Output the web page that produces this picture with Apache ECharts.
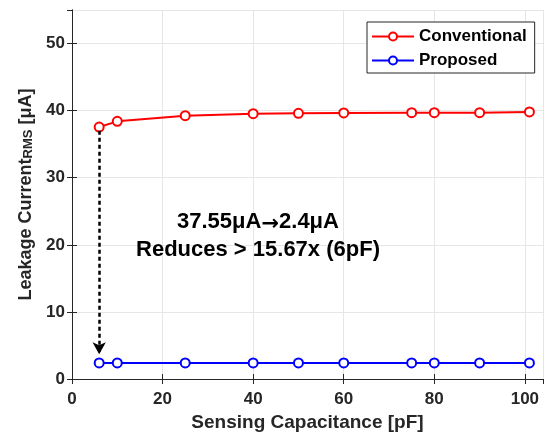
<!DOCTYPE html>
<html>
<head>
<meta charset="utf-8">
<script src="https://cdn.jsdelivr.net/npm/echarts@6/dist/echarts.min.js"></script>
<style>html,body{margin:0;padding:0;background:#fff;}#chart{width:544px;height:438px;}</style>
</head>
<body>
<div id="chart"></div>
<script>
// Data
var capacitance = [6, 10, 25, 40, 50, 60, 75, 80, 90, 101];
var conventional = [37.55, 38.4, 39.25, 39.55, 39.6, 39.65, 39.7, 39.7, 39.7, 39.8];
var proposed = [2.4, 2.4, 2.4, 2.4, 2.4, 2.4, 2.4, 2.4, 2.4, 2.4];
var seriesNames = ['Conventional', 'Proposed'];
var arrowX = 6, arrowFrom = 37.0, arrowTo = 3.7;
var annotation = ['{t|37.55μA}{r|→}{t|2.4μA}', '{t|Reduces > 15.67x (6pF)}'];

var FONT = '"Liberation Sans", Arial, sans-serif';
var TXT = '#262626';

function pairs(xs, ys) { return xs.map(function (x, i) { return [x, ys[i]]; }); }

var chart = echarts.init(document.getElementById('chart'), null, {renderer: 'canvas'});
var hiddenAxis = {
  axisLine: {show: true, lineStyle: {color: TXT, width: 1}},
  axisTick: {show: true, inside: true, length: 5, lineStyle: {color: TXT}},
  axisLabel: {show: false},
  splitLine: {show: false}
};
chart.setOption({
  animation: false,
  backgroundColor: '#fff',
  grid: {left: 72, right: 1, top: 10, bottom: 59, containLabel: false},
  legend: {
    orient: 'vertical', left: 367, top: 22,
    data: seriesNames,
    backgroundColor: '#fff', borderColor: '#262626', borderWidth: 1,
    padding: [6, 8, 4, 4], itemGap: 7, itemWidth: 42, itemHeight: 10,
    textStyle: {fontFamily: FONT, fontWeight: 'bold', fontSize: 17, color: '#000'}
  },
  xAxis: [{
    type: 'value', min: 0, max: 104, interval: 20,
    name: 'Sensing Capacitance [pF]', nameLocation: 'middle', nameGap: 32,
    nameTextStyle: {fontFamily: FONT, fontWeight: 'bold', fontSize: 19, color: TXT},
    axisLine: {onZero: false, lineStyle: {color: TXT, width: 1}},
    axisTick: {inside: true, length: 5, lineStyle: {color: TXT}},
    axisLabel: {fontFamily: FONT, fontWeight: 'bold', fontSize: 17, color: TXT, margin: 12, showMaxLabel: false},
    splitLine: {show: true, lineStyle: {color: '#e6e6e6', width: 1}}
  }, Object.assign({type: 'value', min: 0, max: 104, interval: 20, position: 'top'}, hiddenAxis)],
  yAxis: [{
    type: 'value', min: 0, max: 55, interval: 10,
    name: '{a|Leakage Current}{s|RMS}{a| [μA]}', nameLocation: 'middle', nameGap: 29,
    nameTextStyle: {
      fontFamily: FONT, fontWeight: 'bold', fontSize: 18, color: TXT,
      rich: {
        a: {fontFamily: FONT, fontWeight: 'bold', fontSize: 18, color: TXT, lineHeight: 19, verticalAlign: 'bottom'},
        s: {fontFamily: FONT, fontWeight: 'bold', fontSize: 13, color: TXT, lineHeight: 7, verticalAlign: 'bottom'}
      }
    },
    axisLine: {onZero: false, lineStyle: {color: TXT, width: 1}},
    axisTick: {inside: true, length: 5, lineStyle: {color: TXT}},
    axisLabel: {fontFamily: FONT, fontWeight: 'bold', fontSize: 17, color: TXT, margin: 7, showMaxLabel: false},
    splitLine: {show: true, lineStyle: {color: '#e6e6e6', width: 1}}
  }, Object.assign({type: 'value', min: 0, max: 55, interval: 10, position: 'right'}, hiddenAxis)],
  graphic: annotation.map(function (t, i) {
    return {
      type: 'text', x: 258, y: 222 + i * 28, silent: true, z: 100,
      style: {
        text: t, fill: '#000', font: 'bold 22px ' + FONT, align: 'center', verticalAlign: 'middle',
        rich: {
          t: {fontFamily: FONT, fontWeight: 'bold', fontSize: 22, fill: '#000', lineHeight: 26, verticalAlign: 'middle'},
          r: {fontFamily: '"DejaVu Sans", sans-serif', fontWeight: 'bold', fontSize: 21, fill: '#000', lineHeight: 18, verticalAlign: 'bottom'}
        }
      }
    };
  }),
  series: [{
    name: seriesNames[0], type: 'line', data: pairs(capacitance, conventional),
    symbol: 'emptyCircle', symbolSize: 9,
    lineStyle: {color: '#ff0000', width: 2},
    itemStyle: {color: '#ff0000', borderColor: '#ff0000', borderWidth: 2},
    markLine: {
      silent: true, symbol: ['none', 'arrow'], symbolSize: [10, 12],
      label: {show: false},
      lineStyle: {color: '#000', width: 2.5, type: [4, 3]},
      data: [[{coord: [arrowX, arrowFrom]}, {coord: [arrowX, arrowTo]}]]
    },
    z: 3
  }, {
    name: seriesNames[1], type: 'line', data: pairs(capacitance, proposed),
    symbol: 'emptyCircle', symbolSize: 9,
    lineStyle: {color: '#0000ff', width: 2},
    itemStyle: {color: '#0000ff', borderColor: '#0000ff', borderWidth: 2},
    z: 3
  }]
});
</script>
</body>
</html>
